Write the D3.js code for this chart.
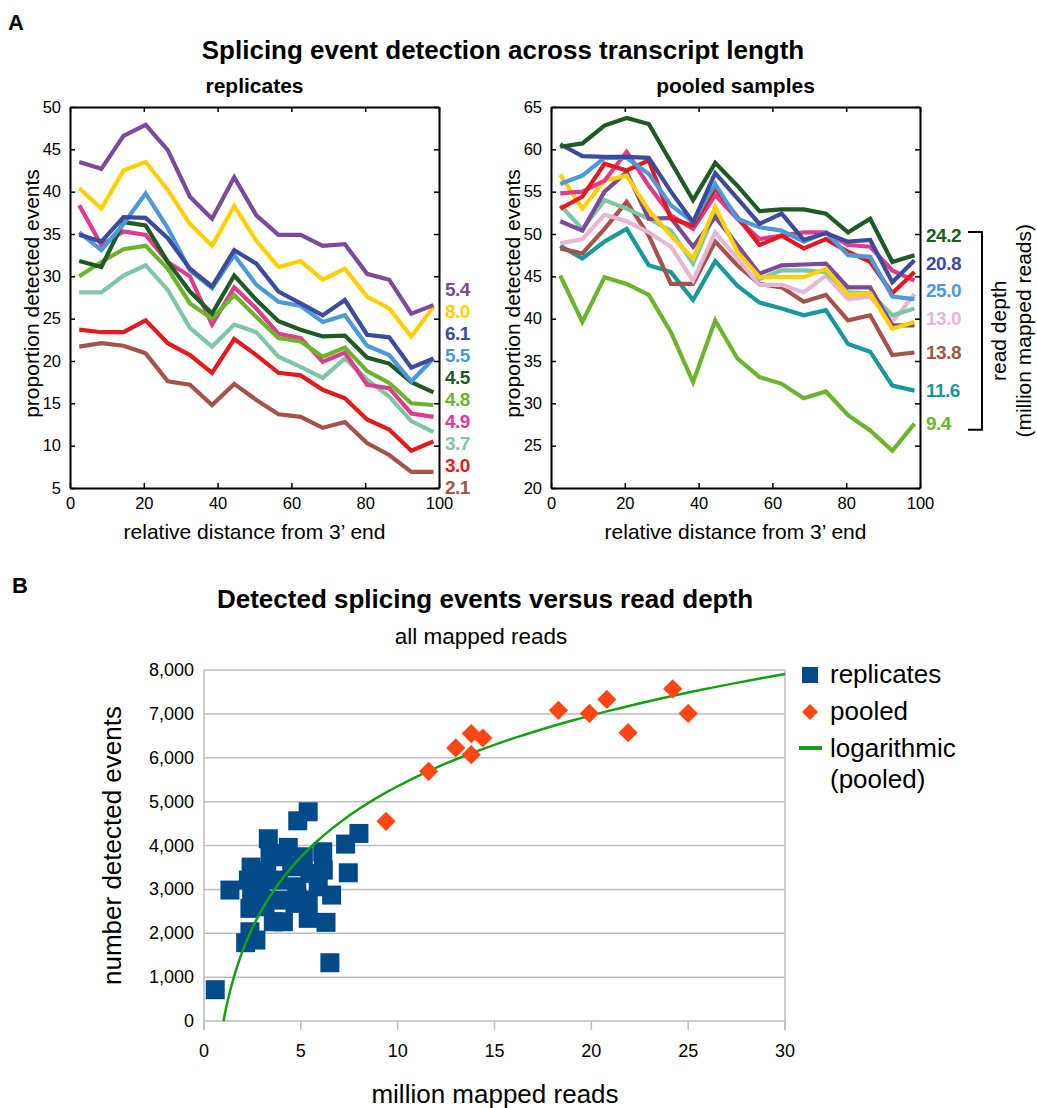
<!DOCTYPE html>
<html>
<head>
<meta charset="utf-8">
<script src="https://cdn.jsdelivr.net/npm/d3@7"></script>
<style>
  body { margin: 0; background: #fff; }
  svg { font-family: "Liberation Sans", Arial, Helvetica, sans-serif; }
</style>
</head>
<body>
<svg id="fig" width="1037" height="1108"></svg>
<script>
// ---- panel A data ----
const distance = [2.5, 8.5, 14.5, 20.5, 26.5, 32.5, 38.5, 44.5, 50.5, 56.5, 62.5, 68.5, 74.5, 80.5, 86.5, 92.5, 98.5]
const distTicks = [0, 20, 40, 60, 80, 100]
const repTicks = [5, 10, 15, 20, 25, 30, 35, 40, 45, 50]
const poolTicks = [20, 25, 30, 35, 40, 45, 50, 55, 60, 65]

// replicates, one array per sample (proportion detected events)
const rep54 = [43.5, 42.7, 46.6, 47.9, 44.9, 39.4, 36.8, 41.7, 37.2, 34.9, 34.9, 33.6, 33.8, 30.3, 29.6, 25.6, 26.6]
const rep80 = [40.4, 38.0, 42.5, 43.5, 40.2, 36.2, 33.6, 38.3, 34.2, 31.1, 31.8, 29.6, 30.9, 27.6, 26.2, 22.9, 26.4]
const rep61 = [34.9, 34.1, 37.0, 36.9, 34.5, 30.9, 28.8, 33.1, 31.5, 28.2, 26.8, 25.4, 27.2, 23.1, 22.8, 19.2, 20.3]
const rep55 = [35.2, 33.1, 36.2, 39.8, 35.7, 30.7, 28.6, 32.5, 29.0, 27.0, 26.5, 24.6, 25.4, 21.8, 20.7, 17.6, 20.3]
const rep45 = [31.8, 31.1, 36.4, 36.0, 31.7, 28.2, 25.6, 30.1, 27.2, 24.7, 23.7, 22.9, 23.0, 20.4, 19.7, 17.5, 16.3]
const rep48 = [30.0, 31.7, 33.2, 33.6, 30.9, 26.8, 25.0, 27.8, 25.2, 22.7, 22.3, 20.5, 21.6, 18.8, 17.4, 15.0, 14.8]
const rep49 = [38.4, 33.7, 35.3, 34.9, 31.7, 30.0, 24.3, 28.7, 26.2, 23.2, 22.7, 19.9, 21.0, 17.2, 16.8, 13.8, 13.4]
const rep37 = [28.1, 28.1, 30.1, 31.3, 28.4, 23.9, 21.7, 24.3, 23.4, 20.5, 19.3, 18.0, 20.3, 17.8, 15.8, 12.9, 11.6]
const rep30 = [23.7, 23.4, 23.4, 24.8, 22.1, 20.7, 18.6, 22.6, 20.7, 18.6, 18.3, 16.6, 15.6, 13.1, 11.9, 9.4, 10.5]
const rep21 = [21.7, 22.1, 21.8, 20.9, 17.6, 17.2, 14.8, 17.3, 15.4, 13.7, 13.4, 12.1, 12.8, 10.3, 8.9, 6.9, 6.9]
const repSeries = [rep54, rep80, rep61, rep55, rep45, rep48, rep49, rep37, rep30, rep21]
const repDepth = ["5.4", "8.0", "6.1", "5.5", "4.5", "4.8", "4.9", "3.7", "3.0", "2.1"]
const repColors = ["#7a4a9b", "#ffd000", "#3d4b9c", "#4a9adb", "#1e5a25", "#6bb52c", "#e03a8e", "#7dc6a6", "#e3191c", "#a5524b"]

// pooled samples
const pool242 = [60.3, 60.7, 62.8, 63.7, 63.0, 58.5, 54.0, 58.4, 55.7, 52.7, 52.9, 52.9, 52.4, 50.2, 51.8, 46.7, 47.5]
const pool208 = [60.6, 59.2, 59.1, 59.1, 59.0, 55.0, 51.4, 57.2, 54.2, 51.2, 52.4, 49.3, 50.1, 49.1, 49.3, 44.3, 46.9]
const pool250 = [55.9, 56.9, 59.0, 59.0, 57.1, 53.4, 51.4, 55.9, 51.8, 50.8, 50.4, 49.1, 50.2, 47.5, 47.3, 42.6, 42.3]
const poolRed = [53.0, 54.4, 58.3, 57.5, 58.7, 51.8, 51.0, 55.4, 52.0, 48.7, 49.8, 48.3, 49.4, 47.9, 46.7, 43.0, 45.5]
const poolMagenta = [54.8, 55.0, 56.3, 59.7, 55.7, 52.2, 50.6, 54.6, 51.8, 49.4, 49.8, 50.2, 50.2, 48.7, 48.5, 45.7, 44.5]
const poolYellow = [57.0, 53.0, 56.3, 56.9, 52.8, 49.8, 47.1, 53.2, 47.9, 44.9, 44.9, 44.9, 45.9, 42.8, 43.0, 38.8, 39.6]
const poolPurple = [51.5, 50.4, 55.0, 57.3, 51.8, 51.9, 48.5, 52.0, 48.7, 45.3, 46.3, 46.4, 46.5, 43.7, 43.7, 39.2, 39.2]
const poolMint = [53.4, 50.6, 54.0, 53.0, 51.8, 50.4, 46.5, 52.6, 48.5, 44.7, 45.7, 45.7, 45.5, 43.1, 43.0, 40.4, 41.2]
const pool130 = [48.9, 49.4, 52.3, 51.5, 50.2, 48.5, 44.5, 50.2, 47.1, 44.0, 44.0, 43.1, 45.1, 42.3, 42.6, 39.6, 42.9]
const pool138 = [48.3, 47.7, 50.6, 53.8, 49.8, 44.1, 44.1, 49.1, 46.3, 44.1, 43.7, 42.0, 42.8, 39.8, 40.4, 35.7, 36.0]
const pool116 = [48.6, 47.1, 49.1, 50.6, 46.3, 45.5, 42.2, 46.8, 43.9, 41.9, 41.2, 40.4, 41.0, 37.0, 36.1, 32.1, 31.5]
const pool94 = [45.1, 39.6, 44.9, 44.1, 42.8, 38.4, 32.5, 39.8, 35.3, 33.1, 32.3, 30.6, 31.4, 28.6, 26.8, 24.4, 27.6]
const poolSeries = [pool242, pool208, pool250, poolRed, poolMagenta, poolYellow, poolPurple, poolMint, pool130, pool138, pool116, pool94]
const poolDepth = ["24.2", "20.8", "25.0", null, null, null, null, null, "13.0", "13.8", "11.6", "9.4"]
const poolColors = ["#1e5a25", "#3d4b9c", "#4a9adb", "#e3191c", "#e03a8e", "#ffd000", "#7a4a9b", "#7dc6a6", "#e8b5d5", "#a5524b", "#17989a", "#6bb52c"]

// ---- panel B data ----
const repReads = [0.58, 5.38, 4.84, 8.0, 7.31, 7.45, 6.3, 6.5, 3.32, 4.35, 6.13, 2.43, 1.34, 6.59, 5.38, 4.1, 2.37, 2.15, 2.68, 3.58,
                  3.15, 2.37, 4.7, 5.38, 5.47, 6.16, 4.53, 3.84, 2.89, 2.46, 4.79, 4.1, 3.41, 3.24, 2.29, 3.84, 2.98, 5.9, 5.13]
const repEvents = [713, 4768, 4563, 4275, 4032, 3378, 2248, 1328, 4153, 3957, 3857, 3508, 2984, 2870, 2339, 2262, 2034, 1784, 1845, 2262,
                   2604, 2567, 2681, 2756, 3364, 3440, 3515, 3212, 3059, 2984, 3059, 3743, 3820, 3401, 3212, 2756, 2756, 3059, 3743]
const pooledReads = [9.4, 11.6, 13.0, 13.8, 13.8, 14.4, 18.3, 19.9, 20.8, 21.9, 24.2, 25.0]
const pooledEvents = [4550, 5690, 6225, 6070, 6550, 6450, 7080, 7010, 7330, 6570, 7570, 7010]
const readTicks = [0, 5, 10, 15, 20, 25, 30]
const eventTicks = [0, 1000, 2000, 3000, 4000, 5000, 6000, 7000, 8000]

const svg = d3.select("#fig")

// small helper that spreads end labels so they don't collide
function spread(ys, gap) {
    const pos = ys.slice()
    for (let k = 0; k < 300; k++) {
        for (let i = 1; i < pos.length; i++) {
            const d = pos[i] - pos[i - 1]
            if (d < gap) { const s = (gap - d) / 2; pos[i - 1] -= s; pos[i] += s }
        }
    }
    return pos
}

function linePanel(left, ticks, series, colors, depths, title, labelGap) {
    const width = 369, top = 107, bottom = 488
    const x = d3.scaleLinear().domain([0, 100]).range([left, left + width])
    const y = d3.scaleLinear().domain([ticks[0], ticks[ticks.length - 1]]).range([bottom, top])
    const g = svg.append("g")

    g.append("text").attr("x", left + width / 2).attr("y", 93).attr("text-anchor", "middle")
        .attr("font-weight", "bold").attr("font-size", 21).text(title)

    const line = d3.line().x((d, i) => x(distance[i])).y(d => y(d))
    series.slice().reverse().forEach((s, k) => {
        const i = series.length - 1 - k
        g.append("path").attr("d", line(s)).attr("fill", "none")
            .attr("stroke", colors[i]).attr("stroke-width", 4.2)
    })

    const styleAxis = a => {
        a.select(".domain").attr("stroke", "#000").attr("stroke-width", 2)
        a.selectAll(".tick line").attr("stroke", "#000").attr("stroke-width", 1.5)
        a.selectAll("text").attr("font-size", 16.5).attr("fill", "#000").attr("font-family", null)
    }
    g.append("g").attr("transform", `translate(0,${bottom})`)
        .call(d3.axisBottom(x).tickValues(distTicks).tickSize(-5).tickSizeOuter(0).tickPadding(9)).call(styleAxis)
    g.append("g").attr("transform", `translate(0,${top})`)
        .call(d3.axisTop(x).tickValues(distTicks).tickSize(-5).tickSizeOuter(0).tickFormat("")).call(styleAxis)
    g.append("g").attr("transform", `translate(${left},0)`)
        .call(d3.axisLeft(y).tickValues(ticks).tickSize(-5).tickSizeOuter(0).tickPadding(9)).call(styleAxis)
    g.append("g").attr("transform", `translate(${left + width},0)`)
        .call(d3.axisRight(y).tickValues(ticks).tickSize(-5).tickSizeOuter(0).tickFormat("")).call(styleAxis)

    g.append("text").attr("x", left + width / 2).attr("y", 539).attr("text-anchor", "middle")
        .attr("font-size", 21).text("relative distance from 3\u2019 end")
    g.append("text").attr("transform", `translate(${left - 39},${(top + bottom) / 2 - 4}) rotate(-90)`)
        .attr("text-anchor", "middle").attr("dominant-baseline", "central")
        .attr("font-size", 21).text("proportion detected events")

    // end labels
    const idx = depths.map((d, i) => i).filter(i => depths[i] !== null)
    const pos = spread(idx.map(i => y(series[i][series[i].length - 1])), labelGap)
    idx.forEach((i, k) => {
        g.append("text").attr("x", left + width + 6).attr("y", pos[k])
            .attr("dominant-baseline", "central").attr("font-weight", "bold").attr("font-size", 19)
            .attr("letter-spacing", -0.5).attr("fill", colors[i]).text(depths[i])
    })
    return pos
}

svg.append("text").attr("x", 8).attr("y", 30).attr("font-weight", "bold").attr("font-size", 22).text("A")
svg.append("text").attr("x", 503).attr("y", 59).attr("text-anchor", "middle").attr("font-weight", "bold")
    .attr("font-size", 26).text("Splicing event detection across transcript length")

linePanel(70, repTicks, repSeries, repColors, repDepth, "replicates", 22)
const poolPos = linePanel(551, poolTicks, poolSeries, poolColors, poolDepth, "pooled samples", 27.5)

// bracket for read depth labels
const bTop = poolPos[0] - 4, bBot = poolPos[poolPos.length - 1] + 6
svg.append("path").attr("d", `M968,${bTop}H982V${bBot}H968`).attr("fill", "none")
    .attr("stroke", "#000").attr("stroke-width", 2)
svg.append("text").attr("transform", `translate(998,${(bTop + bBot) / 2}) rotate(-90)`)
    .attr("text-anchor", "middle").attr("dominant-baseline", "central").attr("font-size", 21).text("read depth")
svg.append("text").attr("transform", `translate(1023,${(bTop + bBot) / 2}) rotate(-90)`)
    .attr("text-anchor", "middle").attr("dominant-baseline", "central").attr("font-size", 21).text("(million mapped reads)")

// ---- panel B ----
svg.append("text").attr("x", 12).attr("y", 593).attr("font-weight", "bold").attr("font-size", 22).text("B")
svg.append("text").attr("x", 485).attr("y", 608).attr("text-anchor", "middle").attr("font-weight", "bold")
    .attr("font-size", 26).text("Detected splicing events versus read depth")
svg.append("text").attr("x", 481).attr("y", 644).attr("text-anchor", "middle")
    .attr("font-size", 22.5).text("all mapped reads")

const sx = d3.scaleLinear().domain([0, 30]).range([204, 785])
const sy = d3.scaleLinear().domain([0, 8000]).range([1021, 670])
const grid = "#bdbdbd"
const sg = svg.append("g")

sg.selectAll(".hgrid").data(eventTicks).enter().append("line")
    .attr("x1", sx(0)).attr("x2", sx(30)).attr("y1", d => sy(d)).attr("y2", d => sy(d))
    .attr("stroke", grid).attr("stroke-width", 1.5)
sg.selectAll(".vframe").data([0, 30]).enter().append("line")
    .attr("x1", d => sx(d)).attr("x2", d => sx(d)).attr("y1", sy(8000)).attr("y2", sy(0) + 9)
    .attr("stroke", grid).attr("stroke-width", 1.5)
sg.selectAll(".xtick").data(readTicks).enter().append("line")
    .attr("x1", d => sx(d)).attr("x2", d => sx(d)).attr("y1", sy(0)).attr("y2", sy(0) + 9)
    .attr("stroke", grid).attr("stroke-width", 1.5)

sg.selectAll(".ylab").data(eventTicks).enter().append("text")
    .attr("x", 194).attr("y", d => sy(d)).attr("text-anchor", "end").attr("dominant-baseline", "central")
    .attr("font-size", 18).text(d3.format(","))
sg.selectAll(".xlab").data(readTicks).enter().append("text")
    .attr("x", d => sx(d)).attr("y", 1057).attr("text-anchor", "middle")
    .attr("font-size", 18).text(d => d)

sg.append("text").attr("transform", `translate(112,${(sy(0) + sy(8000)) / 2}) rotate(-90)`)
    .attr("text-anchor", "middle").attr("dominant-baseline", "central").attr("font-size", 26).text("number detected events")
sg.append("text").attr("x", 495).attr("y", 1103).attr("text-anchor", "middle")
    .attr("font-size", 26).text("million mapped reads")

// replicate squares
const blue = "#034a8a", orange = "#ff4613", green = "#14a014"
const sq = 19
sg.selectAll(".rep").data(repReads).enter().append("rect")
    .attr("x", (d, i) => sx(d) - sq / 2).attr("y", (d, i) => sy(repEvents[i]) - sq / 2)
    .attr("width", sq).attr("height", sq).attr("fill", blue)

// logarithmic fit on pooled samples: events = a*ln(reads) + b
const lx = pooledReads.map(Math.log)
const mx = d3.mean(lx), my = d3.mean(pooledEvents)
const fitA = d3.sum(lx, (v, i) => (v - mx) * (pooledEvents[i] - my)) / d3.sum(lx, v => (v - mx) * (v - mx))
const fitB = my - fitA * mx
const x0 = Math.exp(-fitB / fitA)
const curveX = d3.range(0, 201).map(k => x0 * Math.pow(30 / x0, k / 200))
sg.append("path").attr("fill", "none").attr("stroke", green).attr("stroke-width", 2.5)
    .attr("d", d3.line().x(d => sx(d)).y(d => sy(fitA * Math.log(d) + fitB))(curveX))

// pooled diamonds
const diamond = d3.symbol(d3.symbolSquare, 185)
sg.selectAll(".pool").data(pooledReads).enter().append("path")
    .attr("d", diamond).attr("fill", orange)
    .attr("transform", (d, i) => `translate(${sx(d)},${sy(pooledEvents[i])}) rotate(45)`)

// legend
const lg = svg.append("g").attr("font-size", 26)
lg.append("rect").attr("x", 802).attr("y", 667).attr("width", 16).attr("height", 16).attr("fill", blue)
lg.append("text").attr("x", 830).attr("y", 683).text("replicates")
lg.append("path").attr("d", d3.symbol(d3.symbolSquare, 130)).attr("fill", orange)
    .attr("transform", "translate(810,712) rotate(45)")
lg.append("text").attr("x", 830).attr("y", 720).text("pooled")
lg.append("line").attr("x1", 799).attr("x2", 822).attr("y1", 748).attr("y2", 748)
    .attr("stroke", green).attr("stroke-width", 4)
lg.append("text").attr("x", 830).attr("y", 757).text("logarithmic")
lg.append("text").attr("x", 830).attr("y", 788).text("(pooled)")
</script>
</body>
</html>
